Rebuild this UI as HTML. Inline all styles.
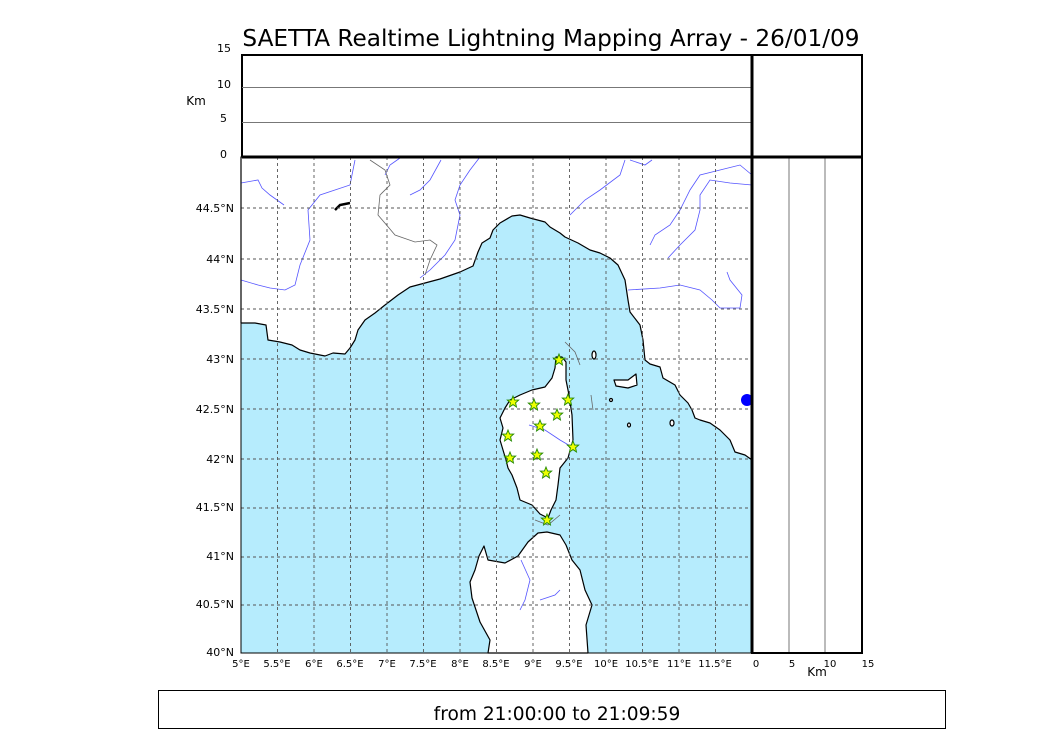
<!DOCTYPE html>
<html><head><meta charset="utf-8"><style>
body{margin:0;background:#fff;width:1050px;height:750px;overflow:hidden}
text{font-family:"DejaVu Sans","Liberation Sans",sans-serif}
</style></head><body>
<svg width="1050" height="750" viewBox="0 0 1050 750" xmlns="http://www.w3.org/2000/svg">
<text x="551" y="46" font-size="23.2" text-anchor="middle">SAETTA Realtime Lightning Mapping Array - 26/01/09</text>
<!-- top panel -->
<rect x="242" y="55" width="620" height="102" fill="#fff" stroke="#000" stroke-width="2"/>
<line x1="242" y1="87.5" x2="752" y2="87.5" stroke="#777" stroke-width="1"/>
<line x1="242" y1="122.5" x2="752" y2="122.5" stroke="#777" stroke-width="1"/>
<g font-size="11" text-anchor="end">
<text x="231" y="52">15</text><text x="231" y="88">10</text><text x="227" y="122">5</text><text x="227" y="158">0</text>
</g>
<text x="196" y="105" font-size="12" text-anchor="middle">Km</text>
<!-- map -->
<rect x="241" y="157" width="511" height="496" fill="#b6ecfd"/>
<g fill="#fff" stroke="#000" stroke-width="1.2" stroke-linejoin="round">
<polygon points="241,157 752,157 752,460 745,455 735,452 730,440 720,430 710,423 700,420 695,418 692,410 688,403 680,395 675,385 663,378 660,367 650,364 645,360 643,340 640,325 630,312 628,300 625,280 618,265 610,258 600,253 590,250 578,243 565,237 560,233 550,227 545,222 530,218 520,215 512,216 500,223 493,230 490,238 482,243 478,252 473,266 460,272 440,279 425,283 410,287 398,295 385,305 375,313 365,320 358,330 355,340 350,348 345,354 333,353 325,356 310,353 300,350 292,345 280,342 268,340 266,325 255,323 241,323"/>
<polygon points="556,357 562,357 566,362 566,380 569,395 572,415 573,440 568,458 560,468 558,485 556,500 551,510 548,518 540,514 532,505 520,500 517,488 512,475 508,468 506,460 503,450 500,440 503,428 500,418 505,408 510,400 520,395 532,390 545,387 552,378 555,368"/>
<polygon points="547,532 560,535 566,545 572,560 580,570 585,590 592,605 586,625 588,653 488,653 490,640 480,622 472,598 470,582 475,570 479,556 484,546 488,560 505,563 518,556 528,542 538,533"/>
<polygon points="614,380 628,380 636,374 637,385 628,388 616,386"/>
<ellipse cx="594" cy="355" rx="2" ry="4"/><ellipse cx="629" cy="425" rx="1.5" ry="2"/><ellipse cx="672" cy="423" rx="2" ry="3"/><ellipse cx="611" cy="400" rx="1.5" ry="1.5"/>
</g>
<g fill="none" stroke="#5555ff" stroke-width="0.8">
<path d="M241,183 L258,180 L262,188 L270,195 L284,205"/>
<path d="M355,160 L350,185 L320,195 L308,210 L310,240 L300,265 L295,285 L285,290 L270,288 L258,285 L241,280"/>
<path d="M400,158 L390,165 L385,175"/>
<path d="M441,160 L430,180 L420,190 L410,195"/>
<path d="M480,157 L470,170 L460,185 L455,200 L460,215 L455,240 L445,255 L430,270 L420,278"/>
<path d="M625,160 L620,175 L600,190 L585,200 L570,215"/>
<path d="M752,175 L740,165 L720,170 L700,175 L690,190 L680,210 L670,225 L655,235 L650,245"/>
<path d="M752,185 L730,183 L710,180 L700,195 L700,210 L695,230 L680,245 L668,258"/>
<path d="M628,290 L660,288 L680,285 L700,290 L712,300 L720,308 L740,308 L742,295 L730,280 L727,272"/>
<path d="M630,160 L645,165 L652,160"/>
<path d="M529,425 L545,430 L560,440 L572,447"/>
<path d="M521,560 L530,580 L525,600 L520,610"/>
<path d="M540,600 L555,595 L560,590"/>
</g>
<g fill="none" stroke="#666" stroke-width="0.8">
<path d="M370,160 L385,170 L390,185 L380,195 L378,215 L395,235 L415,242 L430,240 L437,245 L430,260 L425,275"/>
<path d="M565,342 L575,352 L580,365"/>
<path d="M591,395 L593,410"/>
<path d="M535,520 L548,525 L560,515"/>
</g>
<path d="M335,210 L340,205 L350,203" stroke="#000" stroke-width="2.5" fill="none"/>
<g stroke="#555" stroke-width="0.9" stroke-dasharray="3,3">
<line x1="277.5" y1="157" x2="277.5" y2="653"/><line x1="314" y1="157" x2="314" y2="653"/><line x1="350.5" y1="157" x2="350.5" y2="653"/><line x1="387" y1="157" x2="387" y2="653"/><line x1="423.5" y1="157" x2="423.5" y2="653"/><line x1="460" y1="157" x2="460" y2="653"/><line x1="496.5" y1="157" x2="496.5" y2="653"/><line x1="533" y1="157" x2="533" y2="653"/><line x1="569.5" y1="157" x2="569.5" y2="653"/><line x1="606" y1="157" x2="606" y2="653"/><line x1="642.5" y1="157" x2="642.5" y2="653"/><line x1="679" y1="157" x2="679" y2="653"/><line x1="715.5" y1="157" x2="715.5" y2="653"/>
<line x1="241" y1="208" x2="752" y2="208"/><line x1="241" y1="259" x2="752" y2="259"/><line x1="241" y1="309" x2="752" y2="309"/><line x1="241" y1="359" x2="752" y2="359"/><line x1="241" y1="409" x2="752" y2="409"/><line x1="241" y1="459" x2="752" y2="459"/><line x1="241" y1="508" x2="752" y2="508"/><line x1="241" y1="557" x2="752" y2="557"/><line x1="241" y1="605" x2="752" y2="605"/>
</g>
<ellipse cx="747" cy="400" rx="6" ry="6" fill="#0000ff"/>
<defs><polygon id="st" points="0,-6 1.6,-2 5.7,-1.9 2.6,0.8 3.5,5 0,2.6 -3.5,5 -2.6,0.8 -5.7,-1.9 -1.6,-2" fill="#eeff00" stroke="#228800" stroke-width="0.9"/></defs>
<use href="#st" x="559" y="360"/><use href="#st" x="513" y="402"/><use href="#st" x="534" y="405"/><use href="#st" x="568" y="400"/><use href="#st" x="557" y="415"/><use href="#st" x="540" y="426"/><use href="#st" x="508" y="436"/><use href="#st" x="573" y="447"/><use href="#st" x="537" y="455"/><use href="#st" x="510" y="458"/><use href="#st" x="546" y="473"/><use href="#st" x="547" y="520"/>
<rect x="241" y="157" width="511" height="496" fill="none" stroke="#000" stroke-width="1"/>
<!-- right panel -->
<line x1="789" y1="157" x2="789" y2="653" stroke="#777"/>
<line x1="825" y1="157" x2="825" y2="653" stroke="#777"/>
<rect x="752" y="157" width="110" height="496" fill="none" stroke="#000" stroke-width="2"/>
<line x1="752" y1="55" x2="752" y2="653" stroke="#000" stroke-width="3"/>
<line x1="242" y1="157" x2="862" y2="157" stroke="#000" stroke-width="3"/>
<g font-size="11" text-anchor="end">
<text x="234" y="212">44.5°N</text><text x="234" y="263">44°N</text><text x="234" y="313">43.5°N</text><text x="234" y="363">43°N</text><text x="234" y="413">42.5°N</text><text x="234" y="463">42°N</text><text x="234" y="511">41.5°N</text><text x="234" y="560">41°N</text><text x="234" y="608">40.5°N</text><text x="234" y="656">40°N</text>
</g>
<g font-size="10" text-anchor="middle">
<text x="241" y="667">5°E</text><text x="277" y="667">5.5°E</text><text x="314" y="667">6°E</text><text x="350" y="667">6.5°E</text><text x="387" y="667">7°E</text><text x="423" y="667">7.5°E</text><text x="460" y="667">8°E</text><text x="496" y="667">8.5°E</text><text x="533" y="667">9°E</text><text x="569" y="667">9.5°E</text><text x="606" y="667">10°E</text><text x="642" y="667">10.5°E</text><text x="679" y="667">11°E</text><text x="715" y="667">11.5°E</text>
<text x="756" y="667">0</text><text x="792" y="667">5</text><text x="830" y="667">10</text><text x="868" y="667">15</text>
</g>
<text x="817" y="676" font-size="12" text-anchor="middle">Km</text>
<rect x="158.5" y="690.5" width="787" height="38" fill="#fff" stroke="#000" stroke-width="1"/>
<text x="557" y="720" font-size="18.6" text-anchor="middle">from 21:00:00 to 21:09:59</text>
</svg>
</body></html>
